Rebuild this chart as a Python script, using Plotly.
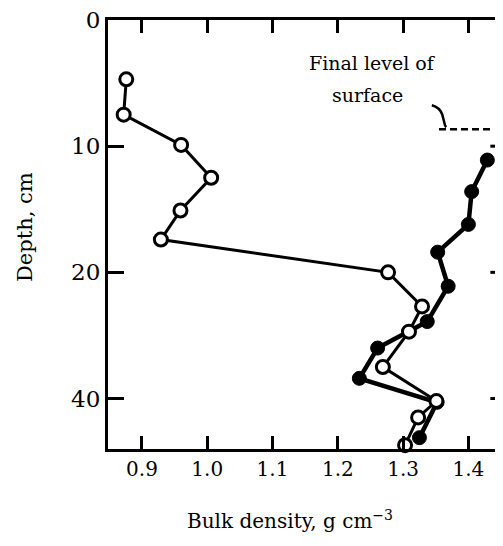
import plotly.graph_objects as go

# Open-circle profile (bulk density g/cm3, depth cm)
open_density = [0.876, 0.872, 0.960, 1.006, 0.959, 0.929, 1.277, 1.329, 1.309, 1.269, 1.351, 1.323, 1.303]
open_depth = [4.7, 7.5, 9.9, 12.5, 15.1, 17.4, 20.0, 22.7, 24.7, 27.5, 30.2, 31.5, 33.7]

# Filled-circle profile
filled_density = [1.429, 1.405, 1.400, 1.353, 1.369, 1.337, 1.261, 1.233, 1.352, 1.325]
filled_depth = [11.1, 13.6, 16.2, 18.4, 21.1, 23.9, 26.0, 28.4, 30.3, 33.1]

x_tickvals = [0.9, 1.0, 1.1, 1.2, 1.3, 1.4]
x_ticktext = ["0.9", "1.0", "1.1", "1.2", "1.3", "1.4"]
y_tickvals = [0, 10, 20, 30]
y_ticktext = ["0", "10", "20", "40"]

surface_level = 8.65

FONT = "DejaVu Serif"

fig = go.Figure()
fig.add_trace(go.Scatter(
    x=filled_density, y=filled_depth, mode="lines+markers",
    line=dict(color="black", width=4.5),
    marker=dict(symbol="circle", size=14, color="black", line=dict(color="black", width=1)),
    showlegend=False, cliponaxis=False))
fig.add_trace(go.Scatter(
    x=open_density, y=open_depth, mode="lines+markers",
    line=dict(color="black", width=3),
    marker=dict(symbol="circle", size=13, color="white", line=dict(color="black", width=3)),
    showlegend=False, cliponaxis=False))

shapes = []
# right-side inward ticks (right axis is cut off by the image edge)
for v in y_tickvals[1:]:
    shapes.append(dict(type="line", xref="paper", yref="y", x0=0.968, x1=1.0, y0=v, y1=v,
                       line=dict(color="black", width=3)))
# final level of surface dashed line
shapes.append(dict(type="line", xref="x", yref="y", x0=1.355, x1=1.437, y0=surface_level, y1=surface_level,
                   line=dict(color="black", width=2.5, dash="7px,4px")))
# little curly leader
shapes.append(dict(type="path", xref="x", yref="y",
                   path="M 1.344,6.75 Q 1.356,6.9 1.360,7.5 L 1.363,8.1 Q 1.364,8.4 1.366,8.5",
                   line=dict(color="black", width=2.5)))

# page body has an 8px margin, so the figure is sized to fit the 503x546 window
W, H = 495, 538
L, T, B = 100, 12, 97
PW, PH = W - L, H - T - B

fig.update_layout(
    width=W, height=H,
    margin=dict(l=L, r=0, t=T, b=B),
    paper_bgcolor="white", plot_bgcolor="white",
    font=dict(family=FONT, size=20, color="black"),
    shapes=shapes,
    xaxis=dict(range=[0.848, 1.453], tickvals=x_tickvals, ticktext=x_ticktext,
               ticks="inside", ticklen=13, tickwidth=3, tickcolor="black",
               showline=True, linewidth=3, linecolor="black", mirror="ticks",
               showgrid=False, zeroline=False, ticklabeloverflow="allow",
               tickfont=dict(family=FONT, size=20, color="black")),
    yaxis=dict(range=[34, 0], tickvals=y_tickvals, ticktext=y_ticktext,
               ticks="inside", ticklen=16, tickwidth=3, tickcolor="black",
               showline=True, linewidth=3, linecolor="black",
               showgrid=False, zeroline=False, ticklabeloverflow="allow",
               tickfont=dict(family=FONT, size=23, color="black")),
    annotations=[
        dict(text="Bulk density, g cm<sup>−3</sup>", xref="paper", yref="paper",
             x=(290 - 108) / PW, y=-(520 - 449) / PH, xanchor="center", yanchor="middle",
             showarrow=False, font=dict(family=FONT, size=20, color="black")),
        dict(text="Depth, cm", xref="paper", yref="paper",
             x=-(108 - 25) / PW, y=1 - (227 - 20) / PH, xanchor="center", yanchor="middle",
             textangle=-90, showarrow=False, font=dict(family=FONT, size=21, color="black")),
        dict(text="Final level of", xref="x", yref="y", x=1.253, y=3.4,
             xanchor="center", yanchor="middle", showarrow=False,
             font=dict(family=FONT, size=19, color="black")),
        dict(text="surface", xref="x", yref="y", x=1.246, y=5.95,
             xanchor="center", yanchor="middle", showarrow=False,
             font=dict(family=FONT, size=19, color="black")),
    ],
)

fig.write_html("out.html")
